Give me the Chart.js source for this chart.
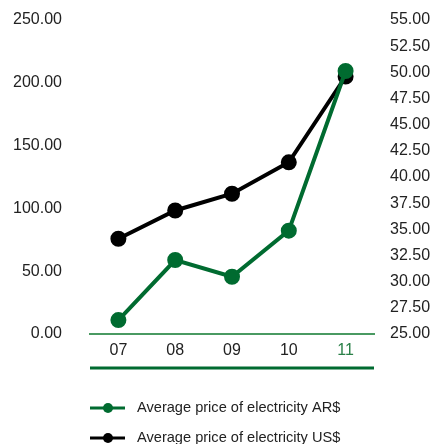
<!DOCTYPE html>
<html>
<head>
<meta charset="utf-8">
<script src="https://cdn.jsdelivr.net/npm/chart.js@4"></script>
<style>
  html, body { margin: 0; padding: 0; background: #fff; }
  #wrap { width: 431px; height: 444px; }
</style>
</head>
<body>
<div id="wrap"><canvas id="myChart" width="431" height="444"></canvas></div>
<script>
// chart data
var years = ['07', '08', '09', '10', '11'];
var priceARS = [11.1, 58.9, 45.6, 82.3, 209.4];
var priceUSD = [34.1, 36.8, 38.4, 41.4, 49.6];
var seriesNames = ['Average price of electricity AR$', 'Average price of electricity US$'];
var yearColors = ['#222', '#222', '#222', '#222', '#2a8048'];

var green = '#006b30';
var fontFam = '"Liberation Sans", Arial, Helvetica, sans-serif';

// plot box of the original picture
var plotTop = 20, plotBottom = 334;

// pin the plot area to where it sits in the original
var pinArea = {
    id: 'pinArea',
    afterLayout: function (chart) {
        var a = chart.chartArea;
        a.top = plotTop;
        a.bottom = plotBottom;
        a.height = plotBottom - plotTop;
        ['y', 'y1'].forEach(function (id) {
            var s = chart.scales[id];
            s.top = plotTop;
            s.bottom = plotBottom;
            s.height = plotBottom - plotTop;
            s.configure();
        });
        var x = chart.scales.x;
        x.top = plotBottom;
        x.bottom = plotBottom + 34;
        x.height = 34;
        x.configure();
    }
};

// draws the dark green rule under the years and the legend at the bottom
var extras = {
    id: 'extras',
    afterDraw: function (chart) {
        var c = chart.ctx;
        var area = chart.chartArea;
        c.save();
        c.strokeStyle = green;
        c.lineWidth = 3;
        c.beginPath();
        c.moveTo(area.left, 368);
        c.lineTo(area.right, 368);
        c.stroke();

        c.font = '14.6px ' + fontFam;
        c.textBaseline = 'middle';
        chart.data.datasets.forEach(function (ds, i) {
            var y = 408 + i * 30;
            c.strokeStyle = ds.borderColor;
            c.lineWidth = 3;
            c.beginPath();
            c.moveTo(90, y);
            c.lineTo(125, y);
            c.stroke();
            c.fillStyle = ds.borderColor;
            c.beginPath();
            c.arc(108, y, 5, 0, Math.PI * 2);
            c.fill();
            c.fillStyle = '#222';
            c.fillText(ds.label, 137, y);
        });
        c.restore();
    }
};

// fixed axis sizes, no extra padding from the tick labels
function fixY(w) {
    return function (s) { s.width = w; s.paddingTop = 0; s.paddingBottom = 0; };
}

window.addEventListener('load', function () {
    var ctx = document.getElementById('myChart').getContext('2d');
    new Chart(ctx, {
        type: 'line',
        data: {
            labels: years,
            datasets: [{
                label: seriesNames[0],
                data: priceARS,
                yAxisID: 'y',
                borderColor: green,
                backgroundColor: green,
                borderWidth: 4,
                pointRadius: 6,
                pointHoverRadius: 6,
                tension: 0
            }, {
                label: seriesNames[1],
                data: priceUSD,
                yAxisID: 'y1',
                borderColor: '#000',
                backgroundColor: '#000',
                borderWidth: 4,
                pointRadius: 6,
                pointHoverRadius: 6,
                tension: 0
            }]
        },
        options: {
            responsive: false,
            animation: false,
            layout: { padding: { top: 20, bottom: 76 } },
            plugins: { legend: { display: false }, tooltip: { enabled: false } },
            scales: {
                x: {
                    offset: true,
                    grid: { display: false, drawTicks: false },
                    border: { color: '#4a9a62', width: 2 },
                    ticks: {
                        color: yearColors,
                        padding: 7,
                        font: { family: fontFam, size: 16 }
                    },
                    afterFit: function (s) { s.height = 34; s.paddingLeft = 0; s.paddingRight = 0; }
                },
                y: {
                    position: 'left',
                    min: 0,
                    max: 250,
                    grid: { display: false, drawTicks: false },
                    border: { display: false },
                    ticks: {
                        stepSize: 50,
                        autoSkip: false,
                        color: '#222',
                        padding: 28,
                        font: { family: fontFam, size: 16 },
                        callback: function (v) { return v.toFixed(2); }
                    },
                    afterFit: fixY(90)
                },
                y1: {
                    position: 'right',
                    min: 25,
                    max: 55,
                    grid: { display: false, drawTicks: false },
                    border: { display: false },
                    ticks: {
                        stepSize: 2.5,
                        autoSkip: false,
                        color: '#222',
                        padding: 16,
                        font: { family: fontFam, size: 16 },
                        callback: function (v) { return v.toFixed(2); }
                    },
                    afterFit: fixY(57)
                }
            }
        },
        plugins: [pinArea, extras]
    });
});
</script>
</body>
</html>
